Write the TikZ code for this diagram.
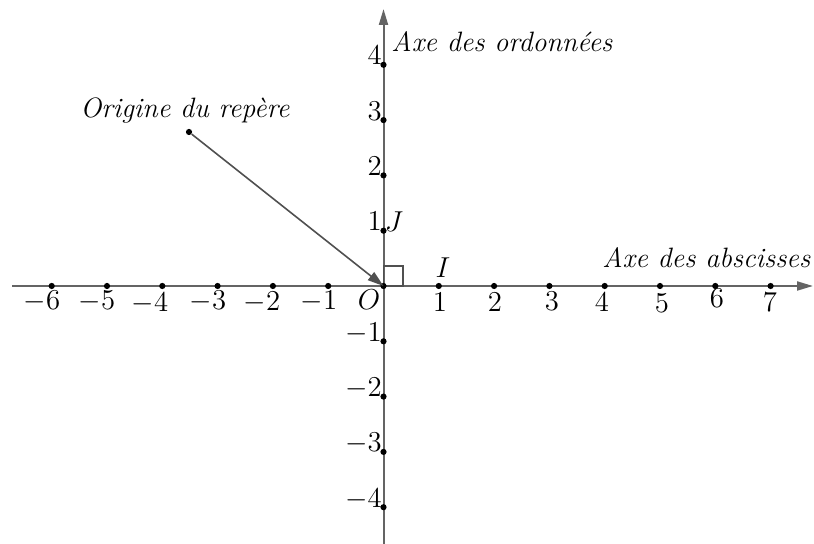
\documentclass[tikz,border=0pt]{standalone}
\usetikzlibrary{arrows.meta}
\definecolor{axisgray}{RGB}{100,100,100}
\definecolor{arrgray}{RGB}{80,80,80}
\begin{document}
\begin{tikzpicture}[x=0.5pt,y=-0.5pt,
  axis/.style={draw=axisgray, line width=1pt, -{Triangle[length=8pt,width=4.5pt]}},
  dotpt/.style={circle, fill=black, inner sep=0pt, minimum size=3.1pt},
  lbl/.style={font=\fontsize{14}{16}\selectfont, inner sep=0pt},
  ]
\useasboundingbox (0,0) rectangle (814,544);
% axes
\coordinate (xs) at (12,286);
\coordinate (xe) at (813,286);
\coordinate (ys) at (383.5,544);
\coordinate (ye) at (383.5,9);
\draw[axis] (xs) -- (xe);
\draw[axis] (ys) -- (ye);
% right angle square
\coordinate (O) at (383.5,286);
\draw[draw=arrgray, line width=0.8pt] (O) rectangle (403,266);
% x dots and labels
\foreach \n/\lx/\ly in {-6/42/310,-5/97/310,-4/150/312,-3/208/310,-2/262/311,-1/319/310,1/440/312,2/495/312,3/552/311,4/602/312,5/662/313,6/717/308,7/770/312}{
  \node[dotpt] (x\n) at ({383.5+55.3*\n},286) {};
  \node[lbl, anchor=base] (lx\n) at (\lx,\ly) {$\n$};
}
% y dots and labels
\foreach \n in {-4,-3,-2,-1,1,2,3,4}{
  \node[dotpt] (y\n) at (383.5,{286-55.3*\n}) {};
  \node[lbl, anchor=base east] (ly\n) at (382,{286-55.3*\n}) {$\n$};
}
\node[dotpt] (o) at (O) {};
\node[lbl] (Olbl) at (369,300) {$O$};
\node[lbl] (Ilbl) at (443,268) {$I$};
\node[lbl] (Jlbl) at (394,222) {$J$};
% axis names
\node[lbl, anchor=south east] (absc) at (811,268) {\textit{Axe des abscisses}};
\node[lbl, anchor=base west] (ordo) at (391,52) {\textit{Axe des ordonnées}};
% origin pointer
\node[dotpt] (p) at (189,132) {};
\node[lbl, anchor=base] (orig) at (185,118) {\textit{Origine du repère}};
\draw[draw=arrgray, line width=0.8pt, -{Triangle[length=8pt,width=5pt]}] (p) -- (O);
\end{tikzpicture}
\end{document}
